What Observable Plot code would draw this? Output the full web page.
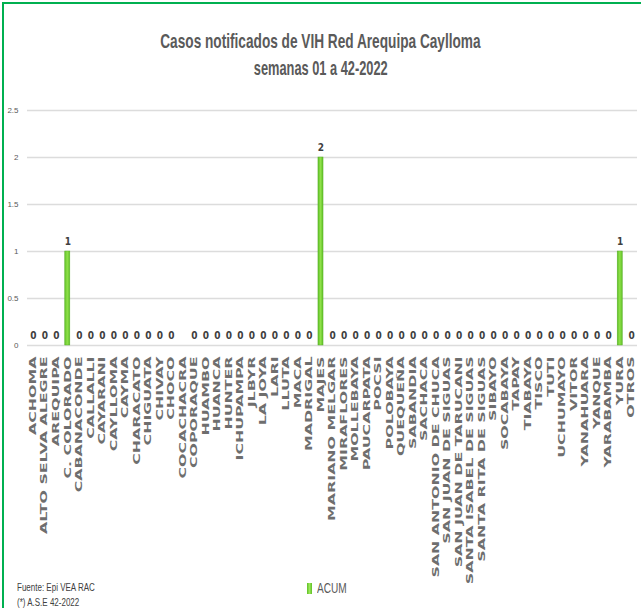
<!DOCTYPE html>
<html><head><meta charset="utf-8">
<script src="https://cdn.jsdelivr.net/npm/d3@7"></script>
<script src="https://cdn.jsdelivr.net/npm/@observablehq/plot@0.6"></script>
<style>
body{margin:0;background:#fff}
#wrap{position:relative;width:641px;height:608px;overflow:hidden;font-family:"Liberation Sans",Arial,sans-serif;color:#595959}
#frame{position:absolute;left:2px;top:2px;width:660px;height:640px;border-left:2px solid #00b050;border-top:2px solid #00b050;box-sizing:border-box}
.tline{position:absolute;left:0;width:641px;text-align:center;white-space:nowrap}
.tline span{display:inline-block;transform-origin:center;font-size:21px;font-weight:bold;color:#5a5a5a}
#chart{position:absolute;left:0;top:95px}
#legend{position:absolute;left:307px;top:580px;height:16px;display:flex;align-items:center}
#legend .sw{display:inline-block;width:5px;height:11px;background:linear-gradient(90deg,#5fbf26,#9be85a,#5fbf26);margin-right:5px}
#legend .lt{display:inline-block;font-size:14px;transform:scaleX(0.72);transform-origin:left center;color:#595959}
.foot{position:absolute;left:17px;font-size:10px;color:#404040;transform:scaleX(0.8);transform-origin:left center;white-space:nowrap}
</style></head>
<body>
<div id="wrap">
  <div id="frame"></div>
  <div class="tline" style="top:29px"><span style="transform:scaleX(0.65)">Casos notificados de VIH Red Arequipa Caylloma</span></div>
  <div class="tline" style="top:56px"><span style="transform:scaleX(0.61)">semanas 01 a 42-2022</span></div>
  <div id="chart"></div>
  <div class="foot" style="top:582px">Fuente: Epi VEA RAC</div>
  <div class="foot" style="top:597px">(*) A.S.E 42-2022</div>
  <div id="legend"><span class="sw"></span><span class="lt">ACUM</span></div>
</div>
<script>
const categories = ["ACHOMA","ALTO SELVA ALEGRE","AREQUIPA","C. COLORADO","CABANACONDE","CALLALLI","CAYARANI","CAYLLOMA","CAYMA","CHARACATO","CHIGUATA","CHIVAY","CHOCO","COCACHACRA","COPORAQUE","HUAMBO","HUANCA","HUNTER","ICHUPAMPA","JLBYR","LA JOYA","LARI","LLUTA","MACA","MADRIGAL","MAJES","MARIANO MELGAR","MIRAFLORES","MOLLEBAYA","PAUCARPATA","POCSI","POLOBAYA","QUEQUEÑA","SABANDIA","SACHACA","SAN ANTONIO DE CHUCA","SAN JUAN DE SIGUAS","SAN JUAN DE TARUCANI","SANTA ISABEL DE SIGUAS","SANTA RITA DE SIGUAS","SIBAYO","SOCABAYA","TAPAY","TIABAYA","TISCO","TUTI","UCHUMAYO","VITOR","YANAHUARA","YANQUE","YARABAMBA","YURA","OTROS"];
const acum = [0,0,0,1,0,0,0,0,0,0,0,0,0,null,0,0,0,0,0,0,0,0,0,0,0,2,0,0,0,0,0,0,0,0,0,0,0,0,0,0,0,0,0,0,0,0,0,0,0,0,0,1,0];
const yTicks = [0,0.5,1,1.5,2,2.5];
const seriesName = "ACUM";

const data = categories.map((c,i)=>({cat:c, v:acum[i]}));

const chart = Plot.plot({
  width: 641, height: 500,
  marginLeft: 27, marginRight: 4, marginTop: 15, marginBottom: 250,
  style: {fontFamily: '"Liberation Sans",sans-serif', color: "#595959", background: "transparent"},
  x: {domain: categories, paddingInner: 0.56, paddingOuter: 0.28, round: false, label: null},
  y: {domain: [0, 2.5], label: null},
  marks: [
    Plot.gridY(yTicks, {stroke: "#dcdcdc", strokeOpacity: 1, strokeWidth: 1.5}),
    Plot.axisY(yTicks, {tickSize: 0, tickPadding: 9, fontSize: 8, fill: "#595959", tickFormat: d => String(d)}),
    Plot.axisX({tickRotate: -90, tickSize: 0, tickPadding: 11, fontSize: 8.5, fontWeight: "bold", fill: "#6e6e6e", fontFamily: "DejaVu Sans"}),
    Plot.barY(data.filter(d => d.v != null && d.v > 0), {x: "cat", y: "v", fill: "url(#barGrad)", stroke: "#5aae2a", strokeWidth: 0.5}),
    Plot.text(data.filter(d => d.v != null), {x: "cat", y: "v", text: d => String(d.v), dy: -10, fontSize: 10, fontWeight: "bold", fill: "#404040", fontFamily: "DejaVu Sans Condensed"})
  ]
});
document.getElementById("chart").appendChild(chart);

const svg = d3.select(chart);
const defs = svg.insert("defs", ":first-child");
const g = defs.append("linearGradient").attr("id", "barGrad").attr("x1", "0").attr("x2", "1").attr("y1", "0").attr("y2", "0");
g.append("stop").attr("offset", "0%").attr("stop-color", "#5fc126");
g.append("stop").attr("offset", "50%").attr("stop-color", "#8fe04a");
g.append("stop").attr("offset", "100%").attr("stop-color", "#5fc126");

svg.selectAll('g[aria-label="x-axis tick label"] text').each(function(){
  const len = this.getComputedTextLength();
  this.setAttribute("textLength", (len * 1.86).toFixed(1));
  this.setAttribute("lengthAdjust", "spacingAndGlyphs");
});
</script>
</body></html>
